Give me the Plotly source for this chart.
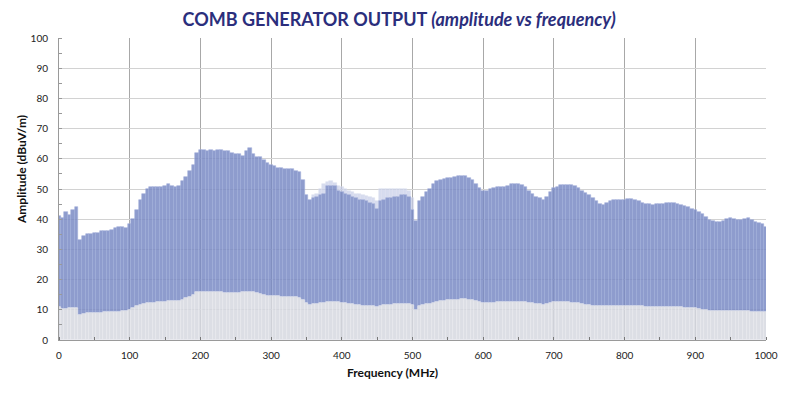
import plotly.graph_objects as go

freq_mhz = list(range(0, 1001, 5))

level_dbuv = [
    41, 40.5, 42.5, 41.5, 43, 44, 33, 34.5, 35, 35,
    35.5, 35.5, 36, 36, 36, 36.5, 37, 37.5, 37.5, 37,
    38.5, 40, 43, 46.5, 48.5, 50, 50.5, 50.5, 50.5, 50.5,
    51, 51.5, 51, 50.5, 51, 52.5, 54, 56, 58, 62,
    63, 63, 62.5, 63, 62.5, 63, 63, 62.5, 62.5, 62,
    61.5, 61.5, 61, 62.5, 63.5, 61.5, 60.5, 60.5, 59.5, 58.5,
    58, 57.5, 57, 57, 56.5, 56.5, 56.5, 56, 55.5, 53,
    48, 46.5, 47, 47.5, 48, 48.5, 51, 51, 51, 49.5,
    49, 48.5, 48, 47.5, 47, 46.5, 46.5, 46, 45.5, 45,
    43.5, 46, 46.5, 47, 47, 47.5, 47.5, 48, 48, 47.5,
    43, 39.5, 46, 47.5, 49, 50, 51.5, 52.5, 53, 53.3,
    53.5, 53.8, 54, 54.2, 54.4, 54.4, 53.8, 53, 51.8, 50.3,
    49.5, 49.3, 50, 50.3, 50.5, 50.5, 50.8, 51, 51.5, 51.7,
    51.6, 51.4, 50.5, 49.3, 48.3, 47.5, 47, 46.3, 47.5, 49,
    50.2, 50.8, 51.2, 51.4, 51.4, 51.2, 50.9, 50.3, 49.5, 48.7,
    48, 47, 46, 45, 44.8, 45.5, 46, 46.2, 46.3, 46.4,
    46.5, 46.6, 46.6, 46.4, 46, 45.5, 45.2, 45, 44.8, 45,
    45, 45.2, 45.3, 45.4, 45.3, 45.2, 44.8, 44.3, 44, 43.5,
    43, 42.5, 41.8, 40.8, 39.8, 39.3, 39.2, 39.2, 39.5, 40,
    40.3, 40, 39.7, 39.8, 40.2, 40.3, 39.6, 39.2, 38.8, 38.3,
    37.5,
]

floor_dbuv = [
    11, 10.3, 10.4, 10.5, 10.6, 10.7, 8.3, 8.6, 8.8, 8.9,
    9, 9.1, 9.1, 9.2, 9.3, 9.3, 9.4, 9.4, 9.5, 9.6,
    9.8, 10.5, 11.2, 11.7, 12, 12.2, 12.3, 12.4, 12.5, 12.6,
    12.7, 12.8, 12.8, 12.9, 13, 13.4, 13.8, 14.3, 15, 15.8,
    16, 16, 16, 16, 16, 15.9, 15.8, 15.7, 15.6, 15.5,
    15.5, 15.6, 15.8, 15.9, 16, 15.8, 15.4, 15.1, 14.8, 14.7,
    14.6, 14.5, 14.5, 14.4, 14.4, 14.4, 14.3, 14.1, 13.9, 13.4,
    12.2, 11.6, 11.8, 12, 12.2, 12.4, 12.6, 12.7, 12.7, 12.5,
    12.3, 12.1, 12, 11.8, 11.7, 11.5, 11.4, 11.3, 11.2, 11.1,
    11, 11.3, 11.5, 11.6, 11.7, 11.8, 11.8, 11.9, 12, 12,
    11.5, 9.8, 11.2, 11.6, 11.8, 12, 12.3, 12.6, 12.8, 13,
    13.1, 13.2, 13.3, 13.4, 13.5, 13.5, 13.4, 13.2, 12.9, 12.6,
    12.3, 12.3, 12.4, 12.4, 12.5, 12.5, 12.6, 12.6, 12.7, 12.7,
    12.7, 12.6, 12.6, 12.4, 12.2, 12, 11.8, 11.7, 12, 12.3,
    12.5, 12.6, 12.6, 12.6, 12.5, 12.4, 12.3, 12.1, 11.9, 11.7,
    11.5, 11.3, 11.2, 11.1, 11.2, 11.3, 11.4, 11.4, 11.4, 11.4,
    11.4, 11.4, 11.4, 11.3, 11.2, 11.1, 11, 11, 11, 11,
    11, 11, 11, 11, 10.9, 10.8, 10.8, 10.7, 10.7, 10.6,
    10.5, 10.3, 10.1, 9.9, 9.7, 9.6, 9.6, 9.6, 9.6, 9.6,
    9.6, 9.6, 9.6, 9.5, 9.5, 9.5, 9.4, 9.4, 9.4, 9.3,
    9.3,
]

peak_freq_mhz = list(range(360, 501, 5))
peak_dbuv = [
    48, 48.5, 50, 51.5, 52.3, 52.5, 52, 51, 50.5, 50,
    49.5, 49, 48.5, 48.3, 48, 47.8, 47.5, 47, 46, 50,
    50, 50, 50, 50, 50, 50, 50, 49.5, 47,
]

x_ticks = list(range(0, 1001, 100))
y_ticks = list(range(0, 101, 10))

level_at = dict(zip(freq_mhz, level_dbuv))
peak_base = [level_at[f] for f in peak_freq_mhz]
peak_height = [max(p - b, 0) for p, b in zip(peak_dbuv, peak_base)]
comb_height = [l - f for l, f in zip(level_dbuv, floor_dbuv)]

FONT = "Lato, 'Open Sans', sans-serif"

fig = go.Figure()
fig.add_trace(go.Bar(
    x=peak_freq_mhz, y=peak_height, base=peak_base, width=5,
    marker=dict(color="rgba(198,205,232,0.7)",
                line=dict(color="rgba(222,226,241,0.8)", width=0.6)),
    hoverinfo="skip", showlegend=False,
))
fig.add_trace(go.Bar(
    x=freq_mhz, y=comb_height, base=floor_dbuv, width=5,
    marker=dict(color="rgba(122,139,196,0.85)",
                line=dict(color="rgba(162,175,218,0.9)", width=0.6)),
    showlegend=False,
))
fig.add_trace(go.Bar(
    x=freq_mhz, y=floor_dbuv, width=5,
    marker=dict(color="rgba(214,216,225,0.85)",
                line=dict(color="rgba(234,235,241,0.9)", width=0.6)),
    showlegend=False,
))

tick_font = dict(family=FONT, size=10, color="#222222")
fig.update_layout(
    width=792, height=389,
    barmode="overlay", bargap=0,
    paper_bgcolor="white", plot_bgcolor="white",
    margin=dict(l=51, r=34, t=30, b=57, autoexpand=False),
    title=dict(
        text="<b>COMB GENERATOR OUTPUT <i>(amplitude vs frequency)</i></b>",
        x=0.494, xanchor="center", y=0.969, yanchor="middle",
        font=dict(family=FONT, size=18, color="#2b2e7c"),
    ),
    xaxis=dict(
        range=[0, 1000], tickvals=x_ticks, ticktext=[str(v) for v in x_ticks],
        showgrid=True, gridcolor="#a8a8a8", gridwidth=1,
        showline=True, linecolor="#9a9a9a", linewidth=1,
        ticks="", tickfont=tick_font, ticklabelstandoff=6,
        minor=dict(dtick=50, ticks="inside", ticklen=3, tickcolor="#777777", showgrid=False),
        zeroline=False, fixedrange=True, automargin=False,
    ),
    yaxis=dict(
        range=[0, 100], tickvals=y_ticks, ticktext=[str(v) for v in y_ticks],
        showgrid=True, gridcolor="#d2d2d2", gridwidth=1,
        showline=True, linecolor="#9a9a9a", linewidth=1,
        ticks="", tickfont=tick_font, ticklabelstandoff=8,
        minor=dict(dtick=5, ticks="inside", ticklen=3, tickcolor="#999999", showgrid=False),
        zeroline=False, fixedrange=True, automargin=False,
    ),
    annotations=[
        dict(text="<b>Frequency (MHz)</b>", xref="paper", yref="paper",
             x=0.472, y=0, xanchor="center", yanchor="middle", yshift=-32,
             showarrow=False, font=dict(family=FONT, size=12, color="#111111")),
        dict(text="<b>Amplitude (dBuV/m)</b>", xref="paper", yref="paper",
             x=-0.0523, y=0.563, xanchor="center", yanchor="middle", textangle=-90,
             showarrow=False, font=dict(family=FONT, size=12, color="#111111")),
    ],
)

fig.write_html("out.html")
